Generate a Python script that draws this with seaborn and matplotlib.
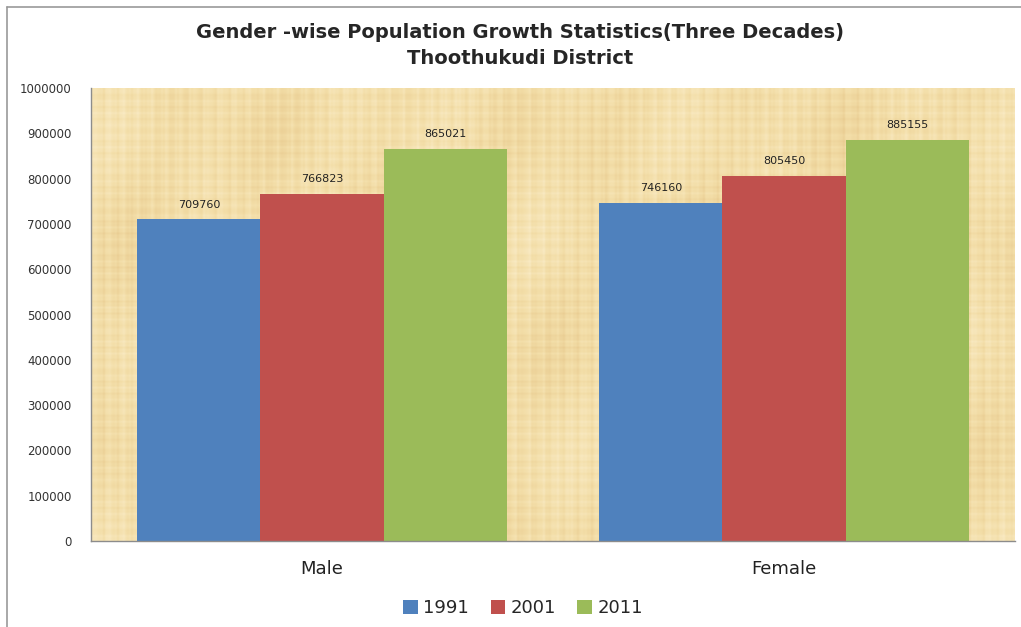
import numpy as np
import pandas as pd
import matplotlib
matplotlib.use("Agg")
import matplotlib.pyplot as plt
import seaborn as sns
from matplotlib.patches import Patch
from matplotlib.lines import Line2D

# ---- data ----
categories = ["Male", "Female"]
years = ["1991", "2001", "2011"]
values_1991 = [709760, 746160]
values_2001 = [766823, 805450]
values_2011 = [865021, 885155]
colors = ["#4F81BD", "#C0504D", "#9BBB59"]
yticks = list(range(0, 1000001, 100000))

rows = []
for yr, vals in zip(years, [values_1991, values_2001, values_2011]):
    for c, v in zip(categories, vals):
        rows.append({"Gender": c, "Year": yr, "Population": v})
df = pd.DataFrame(rows)

sns.set_style("white")
plt.rcParams["font.family"] = ["DejaVu Sans"]

fig = plt.figure(figsize=(10.21, 6.27), dpi=100)
ax = fig.add_axes([91/1021, 86/627, 924/1021, 453/627])

# parchment texture (decorative background, deterministic)
H, W = 226, 462
yy, xx = np.mgrid[0:H, 0:W].astype(float)
t = (0.35*np.sin(xx*0.9) + 0.25*np.sin(xx*2.7 + 1.3) + 0.2*np.sin(xx*1.7 + 0.4)
     + 0.3*np.sin(yy*1.1 + 0.7) + 0.2*np.sin(yy*3.3)
     + 0.35*np.sin(xx/23.0 + 1.0)*np.sin(yy/17.0 + 0.3)
     + 0.25*np.sin(xx/9.0 + yy/31.0))
t = (t - t.min())/(t.max() - t.min())
base = np.array([243, 222, 168])/255.0
light = np.array([250, 236, 200])/255.0
dark = np.array([232, 202, 143])/255.0
img = np.where(t[..., None] > 0.5,
               base + (t[..., None]-0.5)*2*(light-base),
               dark + t[..., None]*2*(base-dark))
ax.imshow(img, extent=(-0.5, 1.5, 0, 1000000), aspect="auto", zorder=0,
          interpolation="bilinear")

sns.barplot(data=df, x="Gender", y="Population", hue="Year", order=categories,
            hue_order=years, palette=colors, width=0.8, gap=0, saturation=1,
            errorbar=None, ax=ax, zorder=2, linewidth=0)

for cont in ax.containers:
    ax.bar_label(cont, labels=[f"{int(v)}" for v in cont.datavalues],
                 padding=7, fontsize=8, color="#222222")

ax.set_xlim(-0.5, 1.5)
ax.set_ylim(0, 1000000)
ax.set_yticks(yticks)
ax.set_yticklabels([str(v) for v in yticks], fontsize=8.5, color="#333333")
ax.tick_params(axis="y", length=0, pad=14)
ax.tick_params(axis="x", length=0, pad=14, labelsize=13, labelcolor="#222222")
ax.set_xlabel("")
ax.set_ylabel("")
for s in ["top", "right"]:
    ax.spines[s].set_visible(False)
for s in ["left", "bottom"]:
    ax.spines[s].set_color("#8c8c8c")
    ax.spines[s].set_linewidth(1)
if ax.get_legend() is not None:
    ax.get_legend().remove()

handles = [Patch(facecolor=c, edgecolor="none") for c in colors]
fig.legend(handles, years, loc="center", bbox_to_anchor=(523/1021, 1-608/627),
           ncol=3, frameon=False, fontsize=13, handlelength=0.8, handleheight=0.8,
           handletextpad=0.3, columnspacing=1.2)

fig.text(520/1021, 1-32/627, "Gender -wise Population Growth Statistics(Three Decades)",
         ha="center", va="center", fontsize=14, fontweight="bold", family="DejaVu Sans")
fig.text(520/1021, 1-59/627, "Thoothukudi District",
         ha="center", va="center", fontsize=14, fontweight="bold", family="DejaVu Sans")

# outer frame (top and left edges visible)
fig.add_artist(Line2D([7/1021, 1.0], [1-7/627, 1-7/627], color="#999999", lw=1.2,
                      transform=fig.transFigure))
fig.add_artist(Line2D([7/1021, 7/1021], [0, 1-7/627], color="#999999", lw=1.2,
                      transform=fig.transFigure))

fig.savefig("out.png", dpi=100, facecolor="white")
